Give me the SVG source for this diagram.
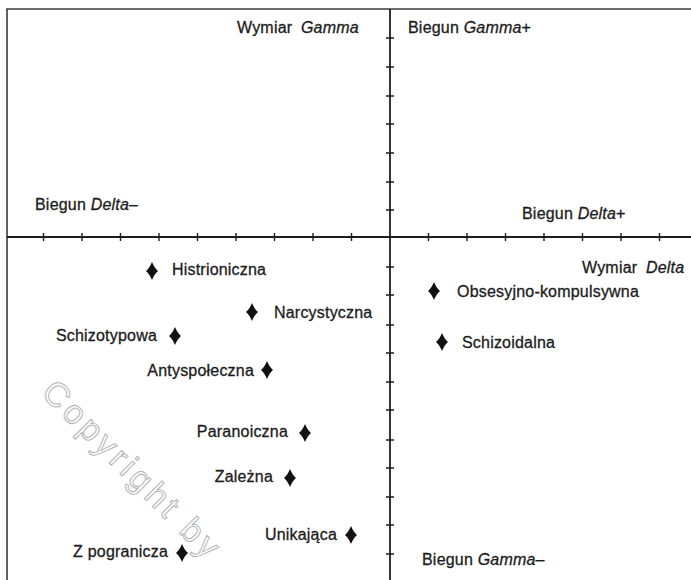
<svg xmlns="http://www.w3.org/2000/svg" width="691" height="580" viewBox="0 0 691 580">
  <defs>
    <style>
      .lbl { font-family: "Liberation Sans", Arial, sans-serif; font-size: 16px; letter-spacing: 0.2px; fill: #1c1c1c; stroke: #1c1c1c; stroke-width: 0.3; }
      .it { font-style: italic; }
      .frame { stroke: #3a3a3a; stroke-width: 1.6; fill: none; }
      .axis { stroke: #1e1e1e; stroke-width: 1.8; fill: none; }
      .tick { stroke: #1e1e1e; stroke-width: 1.4; fill: none; }
      .mark { fill: #111; }
      .wm { font-family: "Liberation Sans", Arial, sans-serif; font-size: 34px; letter-spacing: 4px; fill: none; stroke: #b4b4b4; stroke-width: 1; }
    </style>
    <!-- curved-sided diamond used as the data point marker -->
    <path id="diamond" d="M0,-9 C1.6,-5 3.6,-2 6,0 C3.6,2 1.6,5 0,9 C-1.6,5 -3.6,2 -6,0 C-3.6,-2 -1.6,-5 0,-9 Z"/>
  </defs>

  <rect x="0" y="0" width="691" height="580" fill="#ffffff"/>

  <!-- faint watermark -->
  <text class="wm" transform="translate(40,394) rotate(45)">Copyright by</text>

  <!-- frame and axes -->
  <g id="axes">
    <path class="frame" d="M7,580 V9 H691"/>
    <path class="axis" d="M7,237 H691"/>
    <path class="axis" d="M390,9 V580"/>
    <!-- ticks on the Delta axis -->
    <path class="tick" d="M43.5,233 v8 M82,233 v8 M120.5,233 v8 M159,233 v8 M197.5,233 v8 M236,233 v8 M274.5,233 v8 M313,233 v8 M351.5,233 v8 M428.5,233 v8 M467,233 v8 M505.5,233 v8 M544,233 v8 M582.5,233 v8 M621,233 v8 M659.5,233 v8"/>
    <!-- ticks on the Gamma axis -->
    <path class="tick" d="M386,38 h8 M386,67 h8 M386,96 h8 M386,124 h8 M386,153 h8 M386,182 h8 M386,210 h8 M386,267 h8 M386,295 h8 M386,325 h8 M386,353 h8 M386,382 h8 M386,410 h8 M386,440 h8 M386,468 h8 M386,497 h8 M386,525 h8 M386,554 h8"/>
  </g>

  <!-- axis and pole labels -->
  <g id="axis-labels">
    <text class="lbl" x="237" y="33">Wymiar <tspan class="it" dx="4">Gamma</tspan></text>
    <text class="lbl" x="408" y="33">Biegun <tspan class="it">Gamma</tspan>+</text>
    <text class="lbl" x="35" y="210">Biegun <tspan class="it">Delta</tspan>–</text>
    <text class="lbl" x="522" y="219">Biegun <tspan class="it">Delta</tspan>+</text>
    <text class="lbl" x="582" y="273">Wymiar <tspan class="it" dx="4">Delta</tspan></text>
    <text class="lbl" x="422" y="565">Biegun <tspan class="it">Gamma</tspan>–</text>
  </g>

  <!-- personality types -->
  <g id="histrioniczna">
    <use href="#diamond" class="mark" x="152" y="271"/>
    <text class="lbl" x="172" y="275">Histrioniczna</text>
  </g>
  <g id="narcystyczna">
    <use href="#diamond" class="mark" x="252" y="312"/>
    <text class="lbl" x="274" y="318">Narcystyczna</text>
  </g>
  <g id="schizotypowa">
    <use href="#diamond" class="mark" x="175" y="336"/>
    <text class="lbl" x="157" y="341" text-anchor="end">Schizotypowa</text>
  </g>
  <g id="antyspoleczna">
    <use href="#diamond" class="mark" x="267" y="370"/>
    <text class="lbl" x="254" y="376" text-anchor="end">Antyspołeczna</text>
  </g>
  <g id="paranoiczna">
    <use href="#diamond" class="mark" x="305" y="433"/>
    <text class="lbl" x="288" y="437" text-anchor="end">Paranoiczna</text>
  </g>
  <g id="zalezna">
    <use href="#diamond" class="mark" x="290" y="478"/>
    <text class="lbl" x="273" y="482" text-anchor="end">Zależna</text>
  </g>
  <g id="unikajaca">
    <use href="#diamond" class="mark" x="351" y="535"/>
    <text class="lbl" x="337" y="540" text-anchor="end">Unikająca</text>
  </g>
  <g id="z-pogranicza">
    <use href="#diamond" class="mark" x="182" y="553"/>
    <text class="lbl" x="168" y="557" text-anchor="end">Z pogranicza</text>
  </g>
  <g id="obsesyjno-kompulsywna">
    <use href="#diamond" class="mark" x="434" y="291"/>
    <text class="lbl" x="457" y="297">Obsesyjno-kompulsywna</text>
  </g>
  <g id="schizoidalna">
    <use href="#diamond" class="mark" x="442" y="342"/>
    <text class="lbl" x="462" y="348">Schizoidalna</text>
  </g>
</svg>
